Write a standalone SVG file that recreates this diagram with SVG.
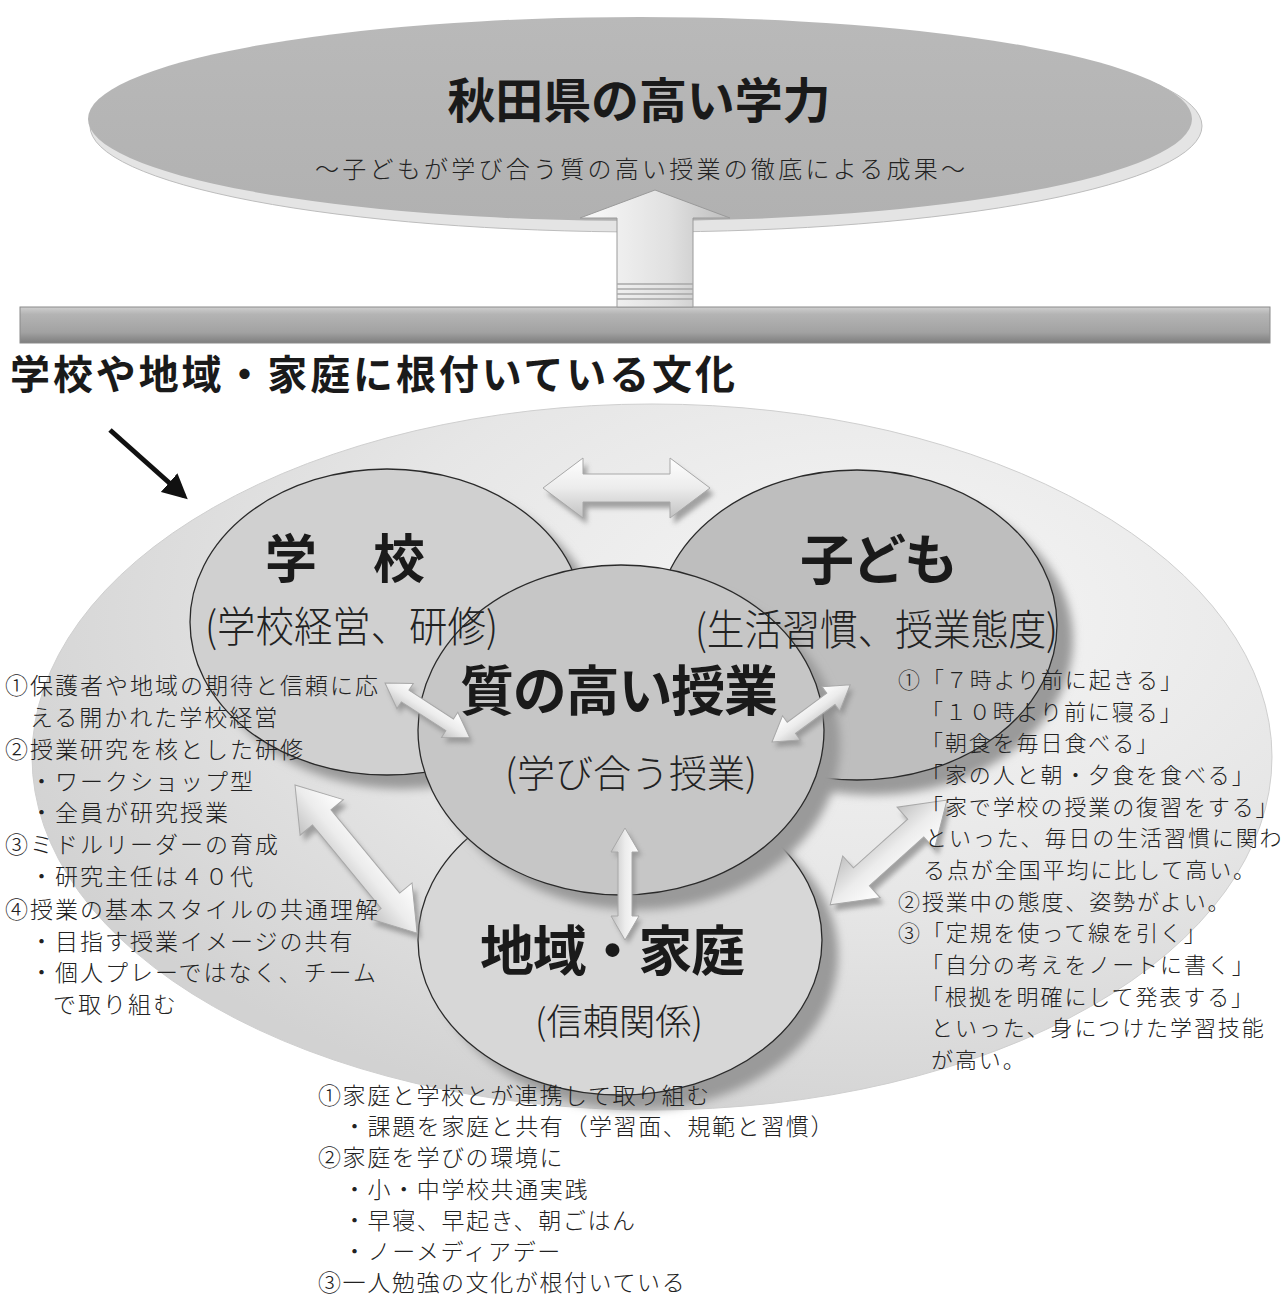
<svg xmlns="http://www.w3.org/2000/svg" width="1284" height="1296" viewBox="0 0 1284 1296">
<defs>
<style>
.jpb{font-family:"Noto Sans CJK JP","Noto Sans CJK SC",sans-serif;font-weight:700;fill:#1a1a1a}
.jpl{font-family:"Noto Sans CJK JP","Noto Sans CJK SC",sans-serif;font-weight:300;fill:#222}
.note{font-family:"Noto Sans CJK JP","Noto Sans CJK SC",sans-serif;font-weight:300;fill:#222;font-size:23px;letter-spacing:2px}
.noteB{font-family:"Noto Sans CJK JP","Noto Sans CJK SC",sans-serif;font-weight:300;fill:#222;font-size:23px;letter-spacing:1.6px}
.noteR{font-family:"Noto Sans CJK JP","Noto Sans CJK SC",sans-serif;font-weight:300;fill:#222;font-size:22px;letter-spacing:1.9px}
.circ{stroke:#2a2a2a;stroke-width:1.3}
.shadow{fill:#9a9a9a;filter:url(#blur)}
.arr{fill:url(#arrG);stroke:#a8a8a8;stroke-width:1}
.arrS{fill:#8e8e8e;filter:url(#blur2);opacity:.8}
</style>
<filter id="blur" x="-20%" y="-20%" width="140%" height="140%"><feGaussianBlur stdDeviation="5"/></filter>
<filter id="blur2" x="-30%" y="-30%" width="160%" height="160%"><feGaussianBlur stdDeviation="2.5"/></filter>
<linearGradient id="topG" x1="0" y1="0" x2="0" y2="1"><stop offset="0" stop-color="#b9b9b9"/><stop offset="1" stop-color="#b1b1b1"/></linearGradient>
<linearGradient id="barG" x1="0" y1="0" x2="0" y2="1"><stop offset="0" stop-color="#cfcfcf"/><stop offset="0.2" stop-color="#b4b4b4"/><stop offset="0.7" stop-color="#a2a2a2"/><stop offset="1" stop-color="#7e7e7e"/></linearGradient>
<linearGradient id="upG" x1="0" y1="0" x2="1" y2="0"><stop offset="0" stop-color="#fafafa"/><stop offset="0.6" stop-color="#e0e0e0"/><stop offset="1" stop-color="#bdbdbd"/></linearGradient>
<radialGradient id="bigG" cx="0.68" cy="0.3" r="0.75"><stop offset="0" stop-color="#f6f6f6"/><stop offset="0.55" stop-color="#e6e6e6"/><stop offset="1" stop-color="#d2d2d2"/></radialGradient>
<linearGradient id="arrG" x1="0" y1="0" x2="0" y2="1"><stop offset="0" stop-color="#ffffff"/><stop offset="0.5" stop-color="#ececec"/><stop offset="1" stop-color="#c2c2c2"/></linearGradient>
<marker id="blk" viewBox="0 0 10 10" refX="8" refY="5" markerWidth="5" markerHeight="5" orient="auto"><path d="M0,0 L10,5 L0,10 Z" fill="#111"/></marker>
</defs>
<rect width="1284" height="1296" fill="#ffffff"/>

<g id="goal">
<ellipse cx="646" cy="126" rx="556" ry="106" fill="#e4e4e4" stroke="#bdbdbd" stroke-width="1"/>
<ellipse cx="640" cy="119" rx="552" ry="102" fill="url(#topG)"/>
<text class="jpb" x="639" y="118" font-size="48" text-anchor="middle" textLength="383">秋田県の高い学力</text>
<text class="jpl" x="315" y="178" font-size="24" textLength="650">～子どもが学び合う質の高い授業の徹底による成果～</text>
</g>

<g id="base">
<rect x="20" y="307" width="1250" height="36" fill="url(#barG)" stroke="#8a8a8a" stroke-width="1"/>
<text class="jpb" x="10" y="389" font-size="40" textLength="725">学校や地域・家庭に根付いている文化</text>
</g>

<g id="culture">
<ellipse cx="652" cy="757" rx="620" ry="353" fill="url(#bigG)" stroke="#cfcfcf" stroke-width="1"/>
</g>

<g id="school">
<ellipse class="shadow" cx="402" cy="636" rx="197" ry="153"/>
<ellipse class="circ" cx="387" cy="622" rx="197" ry="153" fill="#d0d0d0"/>
</g>
<g id="child">
<ellipse class="shadow" cx="873" cy="640" rx="200" ry="155"/>
<ellipse class="circ" cx="857" cy="625" rx="200" ry="155" fill="#bebebe"/>
</g>
<g id="community">
<ellipse class="shadow" cx="636" cy="955" rx="202" ry="155"/>
<ellipse class="circ" cx="620" cy="940" rx="202" ry="155" fill="#d7d7d7"/>
</g>
<g id="lesson">
<ellipse class="shadow" cx="637" cy="745" rx="203" ry="165"/>
<ellipse class="circ" cx="621" cy="730" rx="203" ry="165" fill="#c6c6c6"/>
</g>

<g id="connectors">
<g>
<path d="M617,307 L617,218 L580,218 L655,190 L730,218 L693,218 L693,307 Z" fill="url(#upG)" stroke="#9a9a9a" stroke-width="1"/>
<path d="M617,284 H693 M617,289 H693 M617,294 H693 M617,299 H693" stroke="#a8a8a8" stroke-width="1.5"/>
</g>
<line x1="110" y1="430" x2="184" y2="496" stroke="#111" stroke-width="5" marker-end="url(#blk)"/>

<g transform="translate(4,6)"><path class="arrS" transform="translate(543,488)" d="M0,0 L40,-30 L40,-14 L127,-14 L127,-30 L167,0 L127,30 L127,14 L40,14 L40,30 Z"/></g>
<path class="arr" transform="translate(543,488)" d="M0,0 L40,-30 L40,-14 L127,-14 L127,-30 L167,0 L127,30 L127,14 L40,14 L40,30 Z"/>

<g transform="translate(3,5)"><path class="arrS" transform="translate(385,683) rotate(32.9)" d="M0,0 L24,-15 L24,-7 L77,-7 L77,-15 L101,0 L77,15 L77,7 L24,7 L24,15 Z"/></g>
<path class="arr" transform="translate(385,683) rotate(32.9)" d="M0,0 L24,-15 L24,-7 L77,-7 L77,-15 L101,0 L77,15 L77,7 L24,7 L24,15 Z"/>

<g transform="translate(3,5)"><path class="arrS" transform="translate(772,742) rotate(-36.2)" d="M0,0 L24,-15 L24,-7 L73,-7 L73,-15 L97,0 L73,15 L73,7 L24,7 L24,15 Z"/></g>
<path class="arr" transform="translate(772,742) rotate(-36.2)" d="M0,0 L24,-15 L24,-7 L73,-7 L73,-15 L97,0 L73,15 L73,7 L24,7 L24,15 Z"/>

<g transform="translate(3,4)"><path class="arrS" transform="translate(625,828) rotate(90)" d="M0,0 L24,-14 L24,-7 L88,-7 L88,-14 L112,0 L88,14 L88,7 L24,7 L24,14 Z"/></g>
<path class="arr" transform="translate(625,828) rotate(90)" d="M0,0 L24,-14 L24,-7 L88,-7 L88,-14 L112,0 L88,14 L88,7 L24,7 L24,14 Z"/>

<g transform="translate(4,6)"><path class="arrS" transform="translate(295,785) rotate(50.5)" d="M0,0 L42,-28 L42,-12 L150,-12 L150,-28 L192,0 L150,28 L150,12 L42,12 L42,28 Z"/></g>
<path class="arr" transform="translate(295,785) rotate(50.5)" d="M0,0 L42,-28 L42,-12 L150,-12 L150,-28 L192,0 L150,28 L150,12 L42,12 L42,28 Z"/>

<g transform="translate(4,6)"><path class="arrS" transform="translate(947,800) rotate(138.1)" d="M0,0 L42,-28 L42,-12 L115,-12 L115,-28 L157,0 L115,28 L115,12 L42,12 L42,28 Z"/></g>
<path class="arr" transform="translate(947,800) rotate(138.1)" d="M0,0 L42,-28 L42,-12 L115,-12 L115,-28 L157,0 L115,28 L115,12 L42,12 L42,28 Z"/>
</g>

<g id="school-label">
<text class="jpb" x="265" y="578" font-size="52" textLength="160">学　校</text>
<text class="jpl" x="205" y="642" font-size="42" textLength="293" lengthAdjust="spacingAndGlyphs">(学校経営、研修)</text>
</g>
<g id="child-label">
<text class="jpb" x="800" y="580" font-size="54" textLength="158">子ども</text>
<text class="jpl" x="695" y="645" font-size="42" textLength="363" lengthAdjust="spacingAndGlyphs">(生活習慣、授業態度)</text>
</g>
<g id="lesson-label">
<text class="jpb" x="460" y="711" font-size="54" textLength="318">質の高い授業</text>
<text class="jpl" x="505" y="787" font-size="38" textLength="252" lengthAdjust="spacingAndGlyphs">(学び合う授業)</text>
</g>
<g id="community-label">
<text class="jpb" x="480" y="971" font-size="54" textLength="265">地域・家庭</text>
<text class="jpl" x="535" y="1035" font-size="36" textLength="168" lengthAdjust="spacingAndGlyphs">(信頼関係)</text>
</g>

<g id="school-notes">
<text class="note" x="5" y="694">①保護者や地域の期待と信頼に応</text>
<text class="note" x="30" y="726">える開かれた学校経営</text>
<text class="note" x="5" y="758">②授業研究を核とした研修</text>
<text class="note" x="30" y="790">・ワークショップ型</text>
<text class="note" x="30" y="821">・全員が研究授業</text>
<text class="note" x="5" y="853">③ミドルリーダーの育成</text>
<text class="note" x="30" y="885">・研究主任は４０代</text>
<text class="note" x="5" y="918">④授業の基本スタイルの共通理解</text>
<text class="note" x="30" y="950">・目指す授業イメージの共有</text>
<text class="note" x="30" y="981">・個人プレーではなく、チーム</text>
<text class="note" x="53" y="1013">で取り組む</text>
</g>

<g id="child-notes">
<text class="noteR" x="898" y="688">①「７時より前に起きる」</text>
<text class="noteR" x="921" y="720">「１０時より前に寝る」</text>
<text class="noteR" x="921" y="751">「朝食を毎日食べる」</text>
<text class="noteR" x="921" y="783">「家の人と朝・夕食を食べる」</text>
<text class="noteR" x="921" y="815">「家で学校の授業の復習をする」</text>
<text class="noteR" x="925" y="846">といった、毎日の生活習慣に関わ</text>
<text class="noteR" x="923" y="878">る点が全国平均に比して高い。</text>
<text class="noteR" x="898" y="910">②授業中の態度、姿勢がよい。</text>
<text class="noteR" x="898" y="941">③「定規を使って線を引く」</text>
<text class="noteR" x="921" y="973">「自分の考えをノートに書く」</text>
<text class="noteR" x="921" y="1005">「根拠を明確にして発表する」</text>
<text class="noteR" x="931" y="1036">といった、身につけた学習技能</text>
<text class="noteR" x="931" y="1068">が高い。</text>
</g>

<g id="community-notes">
<text class="noteB" x="318" y="1104">①家庭と学校とが連携して取り組む</text>
<text class="noteB" x="343" y="1135">・課題を家庭と共有（学習面、規範と習慣）</text>
<text class="noteB" x="318" y="1166">②家庭を学びの環境に</text>
<text class="noteB" x="343" y="1198">・小・中学校共通実践</text>
<text class="noteB" x="343" y="1229">・早寝、早起き、朝ごはん</text>
<text class="noteB" x="343" y="1260">・ノーメディアデー</text>
<text class="noteB" x="318" y="1291">③一人勉強の文化が根付いている</text>
</g>
</svg>
